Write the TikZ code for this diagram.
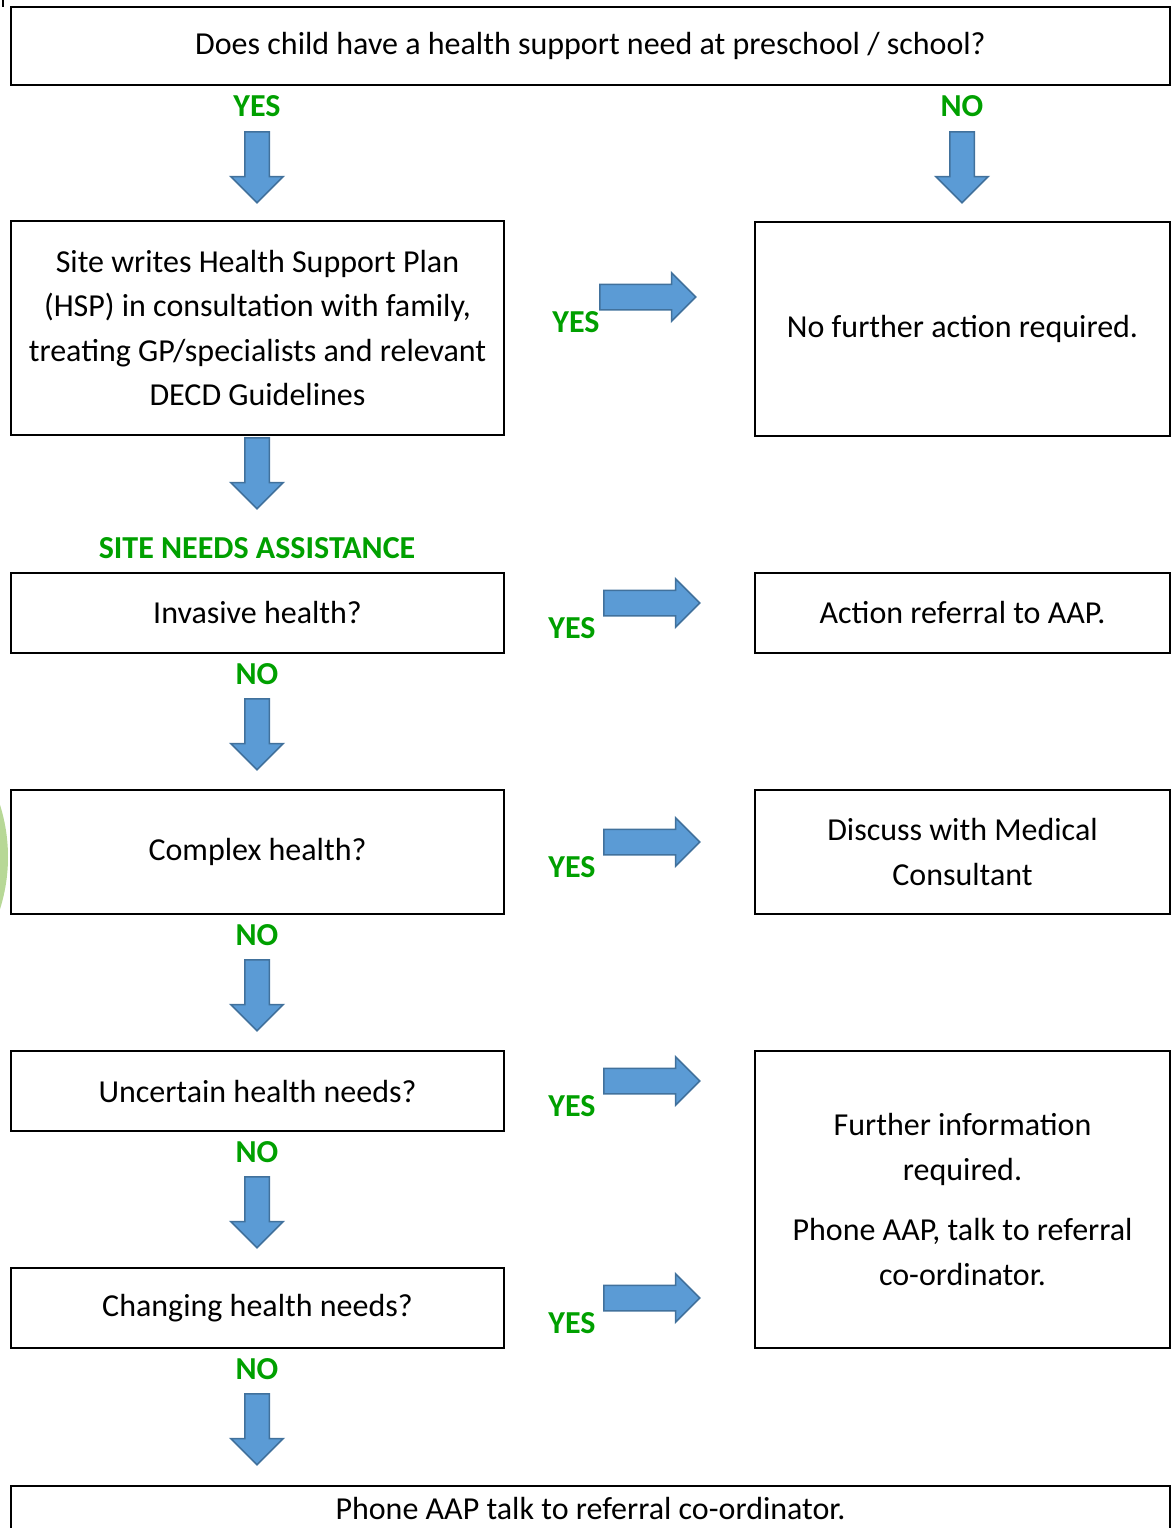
\documentclass[tikz,border=0pt]{standalone}
\usepackage{fontspec}
\setmainfont{Carlito}
\usepackage{xcolor}
\usepackage{tikz}
\usetikzlibrary{shapes.arrows}

\definecolor{arrowblue}{HTML}{5B9BD5}
\definecolor{arrowedge}{HTML}{41719C}
\definecolor{answergreen}{RGB}{0,160,0}
\definecolor{leafgreen}{RGB}{183,216,150}

\begin{document}
\begin{tikzpicture}[x=1pt, y=-1pt,
    box/.style={draw, line width=2pt, align=center, inner sep=0pt, font=\fontsize{32}{44.5}\selectfont},
    answer/.style={text=answergreen, inner sep=0pt, font=\bfseries\fontsize{32}{34}\selectfont},
    downarrow/.style={single arrow, draw=arrowedge, fill=arrowblue, line width=1.5pt, inner sep=11.5pt,
        shape border rotate=270, minimum height=71pt, anchor=tail,
        single arrow head extend=14pt, single arrow head indent=0pt},
    rightarrow/.style={single arrow, draw=arrowedge, fill=arrowblue, line width=1.5pt, inner sep=12pt,
        minimum height=96pt, anchor=tail,
        single arrow head extend=11.5pt, single arrow head indent=0pt}]
    \clip (0,0) rectangle (1175,1528);
    \fill[leafgreen] (-165,857) circle (173);
    \draw[line width=2pt] (3,0) -- (3,7);

    % boxes
    \node[box, minimum width=1159, minimum height=78] (q) at (590.5,46) {Does child have a health support need at preschool / school?};
    \node[box, minimum width=493, minimum height=214] (hsp) at (257.5,328) {Site writes Health Support Plan\\(HSP) in consultation with family,\\treating GP/specialists and relevant\\DECD Guidelines};
    \node[box, minimum width=415, minimum height=214] (nfa) at (962.5,329) {No further action required.};
    \node[box, minimum width=493, minimum height=80] (inv) at (257.5,613) {Invasive health?};
    \node[box, minimum width=415, minimum height=80] (aap) at (962.5,613) {Action referral to AAP.};
    \node[box, minimum width=493, minimum height=124] (cplx) at (257.5,852) {Complex health?};
    \node[box, minimum width=415, minimum height=124] (mc) at (962.5,852) {Discuss with Medical\\Consultant};
    \node[box, minimum width=493, minimum height=80] (unc) at (257.5,1091) {Uncertain health needs?};
    \node[box, minimum width=415, minimum height=297] (info) at (962.5,1199.5) {Further information\\required.\\[16pt]Phone AAP, talk to referral\\co-ordinator.};
    \node[box, minimum width=493, minimum height=80] (chg) at (257.5,1308) {Changing health needs?};
    \node[box, anchor=north, minimum width=1159, text height=33pt, text depth=47pt] (phone) at (590.5,1485) {Phone AAP talk to referral co-ordinator.};

    % answers
    \node[answer] (yes1) at (257,106) {YES};
    \node[answer] (no1) at (962,106) {NO};
    \node[answer] (yes2) at (576,322) {YES};
    \node[answer] (site) at (257,548) {SITE NEEDS ASSISTANCE};
    \node[answer] (yes3) at (572,628) {YES};
    \node[answer] (no2) at (257,674) {NO};
    \node[answer] (yes4) at (572,867) {YES};
    \node[answer] (no3) at (257,935) {NO};
    \node[answer] (yes5) at (572,1106) {YES};
    \node[answer] (no4) at (257,1152) {NO};
    \node[answer] (yes6) at (572,1323) {YES};
    \node[answer] (no5) at (257,1369) {NO};

    % block arrows, placed by their tails
    \node[downarrow] (d1) at (257,131) {};
    \node[downarrow] (d2) at (962,131) {};
    \node[downarrow] (d3) at (257,437) {};
    \node[downarrow] (d4) at (257,698) {};
    \node[downarrow] (d5) at (257,959) {};
    \node[downarrow] (d6) at (257,1176) {};
    \node[downarrow] (d7) at (257,1393) {};
    \node[rightarrow] (r1) at (599,297) {};
    \node[rightarrow] (r2) at (603,603) {};
    \node[rightarrow] (r3) at (603,842) {};
    \node[rightarrow] (r4) at (603,1081) {};
    \node[rightarrow] (r5) at (603,1298) {};
\end{tikzpicture}
\end{document}
